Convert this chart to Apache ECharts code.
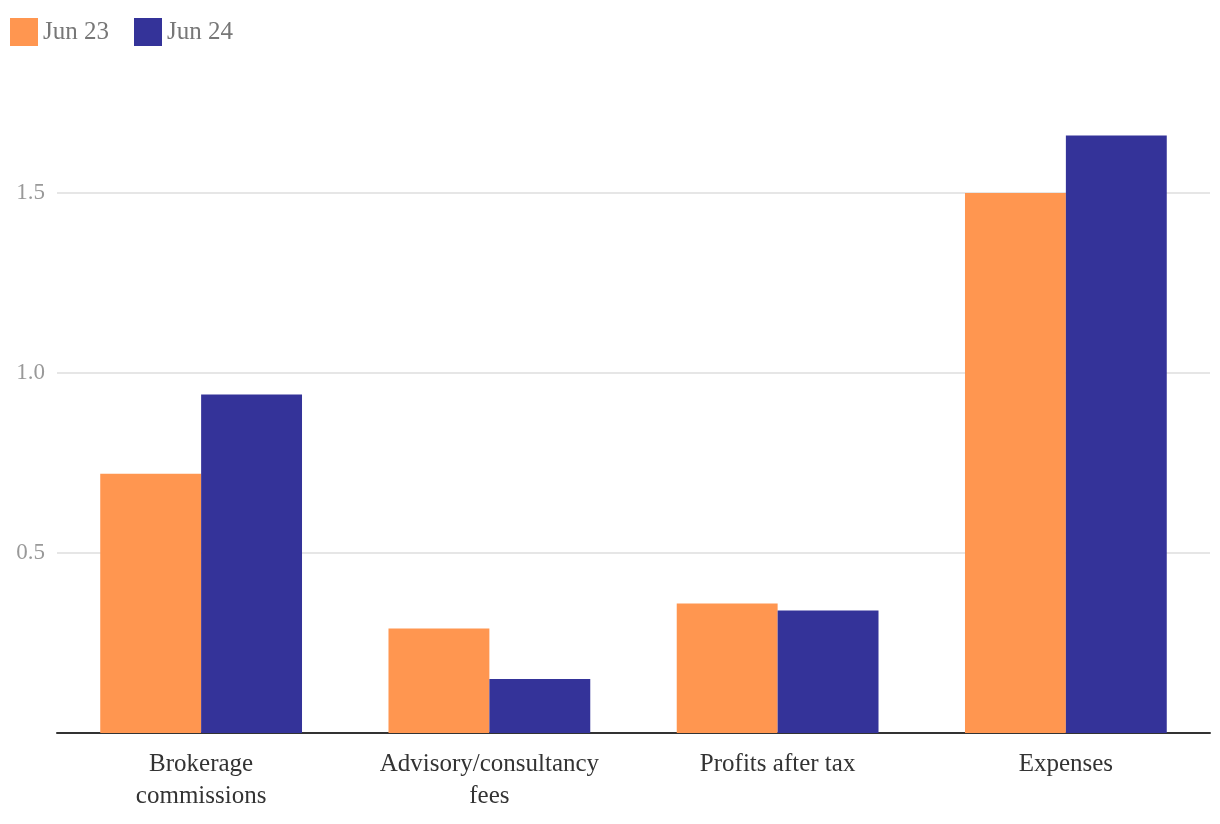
<!DOCTYPE html>
<html>
<head>
<meta charset="utf-8">
<script src="https://cdn.jsdelivr.net/npm/echarts@6/dist/echarts.min.js"></script>
<style>
html,body{margin:0;padding:0;background:#fff;}
#chart{width:1220px;height:824px;}
</style>
</head>
<body>
<div id="chart"></div>
<script>
const categories = ["Brokerage\ncommissions", "Advisory/consultancy\nfees", "Profits after tax", "Expenses"];
const seriesNames = ["Jun 23", "Jun 24"];
const jun23 = [0.72, 0.29, 0.36, 1.50];
const jun24 = [0.94, 0.15, 0.34, 1.66];
const colors = ["#ff9650", "#343399"];
const fontFamily = "'Liberation Serif', 'DejaVu Serif', serif";

const chart = echarts.init(document.getElementById('chart'));
chart.setOption({
  animation: false,
  color: colors,
  textStyle: { fontFamily: fontFamily },
  legend: {
    left: 5, top: 13,
    itemWidth: 28, itemHeight: 28, itemGap: 25,
    icon: 'rect',
    textStyle: { fontSize: 25, color: '#777', fontFamily: fontFamily },
    data: seriesNames
  },
  grid: { left: 57, right: 10, top: 85, bottom: 91, containLabel: false },
  xAxis: {
    type: 'category',
    data: categories,
    axisLine: { lineStyle: { color: '#333', width: 2 } },
    axisTick: { show: false },
    axisLabel: { fontSize: 25, color: '#333', lineHeight: 32, margin: 15, interval: 0, fontFamily: fontFamily }
  },
  yAxis: {
    type: 'value',
    min: 0, max: 1.8, interval: 0.5,
    axisLine: { show: false },
    axisTick: { show: false },
    axisLabel: { showMinLabel: false, showMaxLabel: false, fontSize: 23, color: '#999', margin: 12, fontFamily: fontFamily,
      formatter: v => v.toFixed(1) },
    splitLine: { showMinLine: false, showMaxLine: false, lineStyle: { color: '#e6e6e6', width: 2 } }
  },
  series: [
    { name: seriesNames[0], type: 'bar', data: jun23, barGap: '0%', barCategoryGap: '30%' },
    { name: seriesNames[1], type: 'bar', data: jun24, barGap: '0%', barCategoryGap: '30%' }
  ]
});
</script>
</body>
</html>
